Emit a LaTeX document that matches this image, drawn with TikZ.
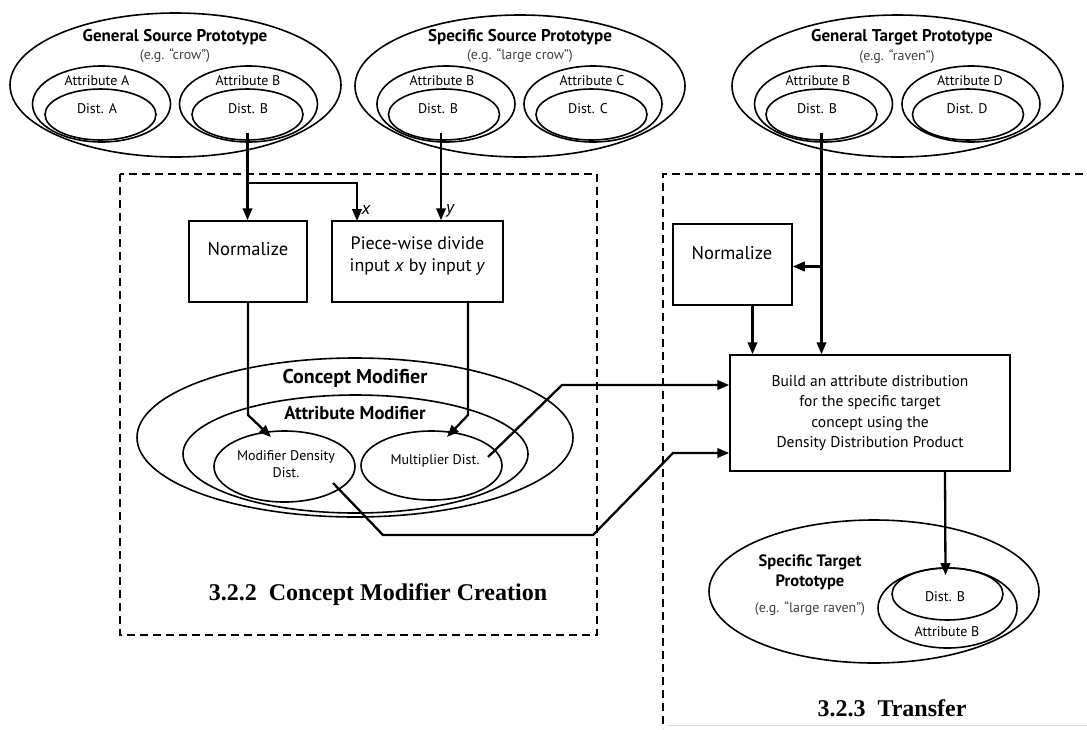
\documentclass[tikz,border=0pt]{standalone}
\usepackage{fontspec}
\setmainfont{PT Sans}
\newfontfamily\secfont{Liberation Serif}
\usetikzlibrary{shapes.geometric,arrows.meta,calc}
\begin{document}
\begin{tikzpicture}[x=1pt,y=-1pt,
  ell/.style={ellipse, draw, line width=1.6pt, inner sep=0pt},
  box/.style={rectangle, draw, line width=1.5pt, inner sep=0pt},
  conn/.style={line width=2.3pt, -{Triangle[length=12pt,width=9.5pt]}, line join=miter},
  dashbox/.style={line width=2pt, dash pattern=on 8pt off 5pt},
  ttl/.style={inner sep=0pt, font=\fontsize{17}{19}\selectfont\bfseries},
  eg/.style={inner sep=0pt, text=black!75, font=\fontsize{14}{16}\selectfont},
  sm/.style={inner sep=0pt, font=\fontsize{14}{16}\selectfont},
  big/.style={inner sep=0pt, font=\fontsize{18.5}{22}\selectfont, align=center},
  sec/.style={inner sep=0pt, font=\fontsize{24}{27}\secfont\bfseries},
  attr/.style={ell, minimum width=138, minimum height=76},
  dist/.style={ell, minimum width=111, minimum height=51}
]
\useasboundingbox (0,0) rectangle (1087,729);

% dashed section frames
\draw[dashbox] (120,174) rectangle (597,635);
\draw[dashbox] (1083,174) -- (663,174) -- (663,729);
\draw[black!15, line width=1pt] (668,725) -- (1087,725);

% General Source Prototype
\node[ell, minimum width=331, minimum height=144] (gsp) at (175.5,85) {};
\node[attr] (gsAttrA) at (101.5,104) {};
\node[dist] (gsDistA) at (100.5,114.5) {};
\node[attr] (gsAttrB) at (248.5,104) {};
\node[dist] (gsDistB) at (247.5,114.5) {};
\node[ttl] (gspT) at (175,37) {General Source Prototype};
\node[eg] (gspE) at (175,56) {(e.g. ``crow'')};
\node[sm] (gsAttrAl) at (97,81) {Attribute A};
\node[sm] (gsDistAl) at (97,109) {Dist. A};
\node[sm] (gsAttrBl) at (248,81) {Attribute B};
\node[sm] (gsDistBl) at (248,109) {Dist. B};

% Specific Source Prototype
\node[ell, minimum width=330, minimum height=142] (ssp) at (520,86) {};
\node[attr] (ssAttrB) at (446,104) {};
\node[dist] (ssDistB) at (444,114.5) {};
\node[attr] (ssAttrC) at (593,104) {};
\node[dist] (ssDistC) at (591.5,114.5) {};
\node[ttl] (sspT) at (520,37) {Specific Source Prototype};
\node[eg] (sspE) at (520,56) {(e.g. ``large crow'')};
\node[sm] (ssAttrBl) at (442,81) {Attribute B};
\node[sm] (ssDistBl) at (438,109) {Dist. B};
\node[sm] (ssAttrCl) at (592,81) {Attribute C};
\node[sm] (ssDistCl) at (588,109) {Dist. C};

% General Target Prototype
\node[ell, minimum width=331, minimum height=142] (gtp) at (897.5,86) {};
\node[attr] (gtAttrB) at (823.5,104) {};
\node[dist] (gtDistB) at (821.5,114.5) {};
\node[attr] (gtAttrD) at (971,104) {};
\node[dist] (gtDistD) at (968,114.5) {};
\node[ttl] (gtpT) at (902,37) {General Target Prototype};
\node[eg] (gtpE) at (897,57) {(e.g. ``raven'')};
\node[sm] (gtAttrBl) at (818,81) {Attribute B};
\node[sm] (gtDistBl) at (817,109) {Dist. B};
\node[sm] (gtAttrDl) at (970,81) {Attribute D};
\node[sm] (gtDistDl) at (967,109) {Dist. D};

% boxes in 3.2.2
\node[box, minimum width=118, minimum height=81] (norm1) at (248,261.5) {};
\node[big] (norm1l) at (248,249) {Normalize};
\node[box, minimum width=171, minimum height=81] (piece) at (417.5,261.5) {};
\node[big, font=\fontsize{18}{22}\selectfont] (piecel) at (417.5,256) {Piece-wise divide\\input \textit{x} by input \textit{y}};

% boxes in 3.2.3
\node[box, minimum width=119, minimum height=81] (norm2) at (732.5,264.5) {};
\node[big] (norm2l) at (732,253) {Normalize};
\node[box, minimum width=280, minimum height=116, align=center,
      font=\fontsize{15.5}{20.5}\selectfont] (build) at (870,413)
  {Build an attribute distribution\\for the specific target\\concept using the\\Density Distribution Product};

% Concept Modifier
\node[ell, minimum width=436, minimum height=159] (cm) at (355,437.5) {};
\node[ell, minimum width=345, minimum height=118] (am) at (355.5,454) {};
\node[ell, minimum width=141, minimum height=71] (mdd) at (284.5,466.5) {};
\node[ell, minimum width=141, minimum height=69] (mult) at (431.5,465.5) {};
\node[inner sep=0pt, font=\fontsize{20}{22}\selectfont\bfseries] (cml) at (355,378) {Concept Modifier};
\node[inner sep=0pt, font=\fontsize{18.5}{20}\selectfont\bfseries] (aml) at (355,413) {Attribute Modifier};
\node[inner sep=0pt, align=center, font=\fontsize{14}{17.5}\selectfont] (mddl) at (286,464) {Modifier Density\\Dist.};
\node[inner sep=0pt, font=\fontsize{14}{16}\selectfont] (multl) at (435,461) {Multiplier Dist.};

% Specific Target Prototype
\node[ell, minimum width=330, minimum height=143] (stp) at (874,591.5) {};
\node[ell, minimum width=139, minimum height=80] (stAttrB) at (947.5,608) {};
\node[ell, minimum width=111, minimum height=52] (stDistB) at (947.5,594) {};
\node[inner sep=0pt, align=center, font=\fontsize{16.5}{20}\selectfont\bfseries] (stpT) at (810,572) {Specific Target\\Prototype};
\node[eg] (stpE) at (810,609) {(e.g. ``large raven'')};
\node[sm] (stDistBl) at (945,597) {Dist. B};
\node[sm] (stAttrBl) at (947,632) {Attribute B};

% section titles
\node[sec] (sec1) at (378,595) {3.2.2\ \ Concept Modifier Creation};
\node[sec] (sec2) at (892,708) {3.2.3\ \ Transfer};

% connectors
\coordinate (j1) at (248,183);
\coordinate (xin) at (357,221);
\draw[conn] ($(gsDistB.center)+(0,18)$) -- (gsDistB.center |- norm1.north);
\draw[conn] (gsDistB.center |- j1) -| (xin);
\node[inner sep=0pt, font=\fontsize{18}{20}\selectfont\itshape] (xl) at (366,210) {x};
\draw[conn] ($(ssDistB.center)+(-3,18)$) -- ($(ssDistB.center |- piece.north)+(-3,0)$);
\node[inner sep=0pt, font=\fontsize{18}{20}\selectfont\itshape] (yl) at (450,211) {y};

\draw[conn] ($(gtDistB.center)+(0,18)$) -- (gtDistB.center |- build.north);
\draw[conn] ($(gtDistB.center |- norm2.east)+(0,2)$) -- ($(norm2.east)+(0,2)$);
\draw[conn] ($(norm2.south)+(20,0)$) -- ($(norm2.south |- build.north)+(20,0)$);

\coordinate (b1) at (248,415);
\coordinate (t1) at (271,437);
\draw[conn] (norm1.south) -- (b1) -- (t1);
\coordinate (b2) at (468,415);
\coordinate (t2) at (447,437);
\draw[conn] (piece.south -| b2) -- (b2) -- (t2);

\coordinate (m1) at (488,457);
\coordinate (m2) at (562,385);
\draw[conn] (m1) -- (m2) -- (build.west |- m2);

\coordinate (d1) at (333,483);
\coordinate (d2) at (383,535);
\coordinate (d3) at (593,535);
\coordinate (d4) at (673,453);
\draw[conn] (d1) -- (d2) -- (d3) -- (d4) -- (build.west |- d4);

\draw[conn] ($(build.south)+(75,0)$) -- ($(stDistB.north)+(-2,8)$);
\end{tikzpicture}
\end{document}
